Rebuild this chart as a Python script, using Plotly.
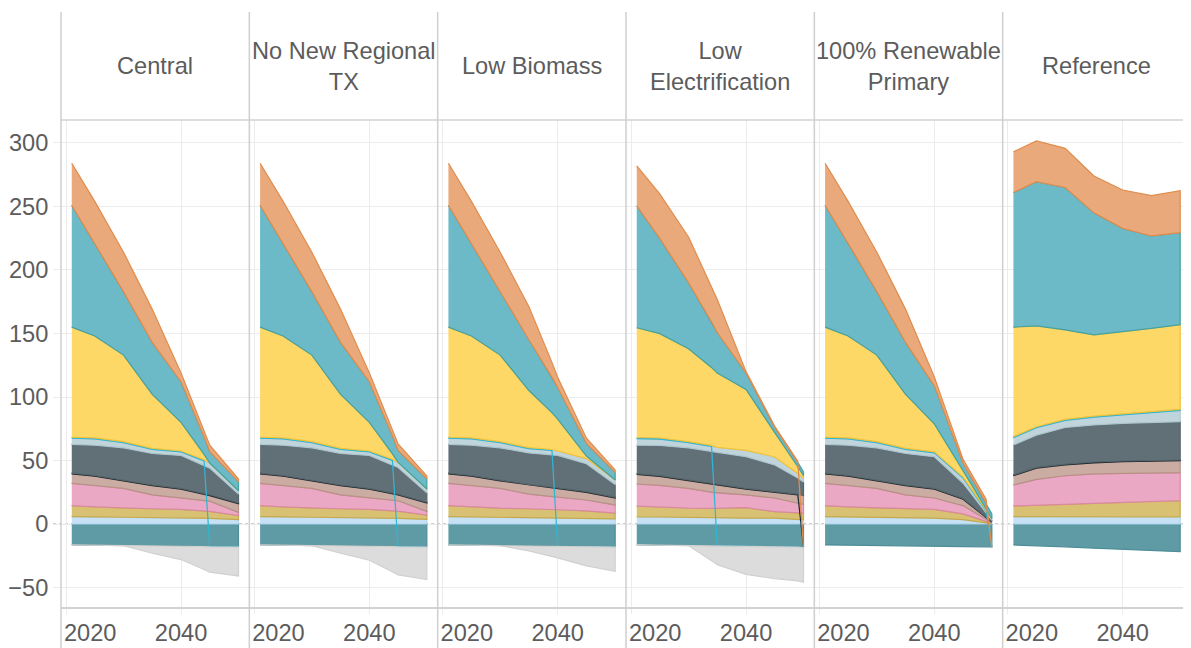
import numpy as np
import plotly.graph_objects as go
from plotly.subplots import make_subplots

# %% data
scenarios = ['Central', 'No New Regional<br>TX', 'Low Biomass',
             'Low<br>Electrification', '100% Renewable<br>Primary', 'Reference']
years = [2021, 2025, 2030, 2035, 2040, 2045, 2050]

# each series: one row per scenario (same order as `scenarios`)
dteal = [[-16.5, -16.8, -17, -17.2, -17.5, -17.8, -18],
         [-16.5, -16.8, -17, -17.2, -17.5, -17.8, -18],
         [-16.5, -16.8, -17, -17.2, -17.5, -17.8, -18],
         [-16.5, -16.8, -17, -17.2, -17.5, -17.8, -18],
         [-16.5, -16.8, -17, -17.2, -17.5, -17.8, -18],
         [-16.5, -17, -18, -19, -20, -21, -21.8]]
lightblue = [[5.8, 5.6, 5.3, 5.0, 4.6, 4.5, 3.4],
             [5.8, 5.6, 5.3, 5.0, 4.6, 4.5, 3.6],
             [5.8, 5.6, 5.3, 5.0, 4.6, 4.4, 4.0],
             [5.5, 5.5, 5.3, 5.0, 4.6, 4.7, 3.3],
             [5.8, 5.6, 5.3, 5.0, 4.6, 3.5, 0.3],
             [5.8, 5.7, 5.7, 5.6, 5.6, 5.5, 5.5]]
khaki = [[8.6, 7.9, 7.2, 7.0, 6.9, 5.5, 3.2],
         [8.6, 7.9, 7.2, 7.0, 6.9, 5.6, 3.4],
         [8.6, 7.9, 7.2, 7.0, 6.9, 6.0, 4.5],
         [8.5, 7.9, 7.2, 7.3, 8.3, 5.0, 5.2],
         [8.6, 7.9, 7.2, 7.0, 6.9, 4.5, 0.4],
         [8.4, 9.0, 9.8, 10.7, 11.5, 12.4, 12.9]]
pink = [[17.6, 17.0, 15.5, 11.0, 9.0, 8.0, 2.6],
        [17.6, 17.0, 15.5, 11.0, 9.0, 8.2, 3.0],
        [17.6, 17.0, 15.5, 11.5, 9.5, 8.5, 6.5],
        [17.5, 17.0, 15.5, 12.0, 10.1, 10.8, 7.0],
        [17.6, 17.0, 15.5, 11.0, 9.0, 6.5, 0.4],
        [16.5, 20.5, 22.5, 23.1, 22.8, 22.3, 22.0]]
taupe = [[7.4, 7.1, 6.0, 7.1, 6.9, 4.4, 6.7],
         [7.4, 7.1, 6.0, 7.1, 6.9, 4.6, 6.5],
         [7.4, 7.1, 6.0, 7.1, 6.9, 6.0, 5.5],
         [7.5, 7.1, 6.0, 6.5, 4.4, 4.4, 7.0],
         [7.4, 7.1, 6.0, 7.1, 6.9, 5.0, 0.4],
         [7.3, 8.8, 8.6, 8.8, 9.1, 9.3, 9.4]]
black = [[0.6, 0.6, 0.6, 0.6, 0.6, 0.6, 0.6],
         [0.6, 0.6, 0.6, 0.6, 0.6, 0.6, 0.6],
         [0.6, 0.6, 0.6, 0.6, 0.6, 0.6, 0.6],
         [0.6, 0.6, 0.6, 0.6, 0.6, 0.6, -0.2],
         [0.6, 0.6, 0.6, 0.6, 0.6, 0.6, 0.4],
         [0.6, 0.6, 0.6, 0.6, 0.6, 0.6, 0.6]]
slate = [[22.7, 23.8, 25.4, 24.8, 26.0, 21.0, 7.1],
         [22.7, 23.8, 25.4, 24.8, 26.0, 21.0, 7.5],
         [22.7, 23.8, 25.4, 24.8, 25.5, 22.0, 10.0],
         [22.4, 23.8, 25.4, 25.0, 25.0, 21.0, 10.5],
         [22.7, 23.8, 25.4, 24.8, 25.0, 12.0, 1.0],
         [23.6, 25.4, 28.8, 29.2, 29.7, 29.9, 30.2]]
greyblue = [[4.8, 5.0, 4.0, 3.3, 2.7, 4.0, 2.6],
            [4.8, 5.0, 4.0, 3.3, 2.7, 4.0, 3.0],
            [4.8, 5.0, 4.0, 3.3, 3.5, 4.0, 3.5],
            [5.3, 5.0, 4.0, 4.0, 5.0, 6.3, 3.0],
            [4.8, 5.0, 4.0, 3.3, 3.0, 4.0, 1.0],
            [5.8, 5.8, 5.6, 6.2, 7.0, 7.9, 8.9]]
cyan = [[0.8, 0.8, 0.8, 0.8, 0.8, -0.2, -0.2],
        [0.8, 0.8, 0.8, 0.8, 0.8, -0.2, -0.2],
        [0.8, 0.8, 0.8, 0.8, -0.2, -0.2, -0.2],
        [0.8, 0.8, 0.8, -0.2, -0.2, -0.2, -0.2],
        [0.8, 0.8, 0.8, 0.8, 0.8, 0.8, -0.2],
        [0.8, 0.8, 0.8, 0.8, 0.8, 0.8, 0.8]]
yellow = [[86.7, 80.2, 68.2, 42.4, 22.5, 0, 0],
          [86.7, 80.2, 68.2, 42.4, 22.5, 0, 0],
          [86.7, 80.2, 68.2, 45.0, 25.0, 2.0, 0],
          [86.4, 82.2, 73.2, 58.4, 48.0, 19.2, 2.0],
          [86.7, 80.2, 68.2, 42.4, 22.0, 5.0, 0],
          [86.2, 79.4, 70.4, 64.0, 64.3, 65.3, 66.7]]
teal = [[96, 73, 50, 41, 32, 9, 7.1],
        [96, 73, 50, 41, 32, 9.5, 8],
        [96, 73, 50, 40, 25, 10, 6],
        [96, 75, 52, 32, 13, 4, 3],
        [96, 73, 50, 41, 30, 6, 4],
        [106, 113.5, 112.2, 96, 81.4, 72.8, 72.4]]
orange = [[33, 33, 31, 26, 7, 5, 2.1],
          [33, 33, 31, 26, 7, 5, 2.2],
          [33, 33, 31, 26, 8, 4, 2],
          [31.5, 35, 36, 26, 1, 1, -0.4],
          [33, 33, 31, 26, 7, 3, -0.4],
          [32, 32.1, 30.8, 29, 30.2, 31.7, 33.1]]
grey = [[0, 0, 0, -5.8, -10.5, -20, -22.7],
        [0, 0, 0, -5.8, -11, -22, -25.5],
        [0, 0, 0, -4, -9, -15, -19],
        [0, 0, 0, -14.6, -22, -25, -27],
        [0, 0, 0, 0, 0, 0, 0],
        [0, 0, 0, 0, 0, 0, 0]]

# stack order (first = closest to zero), fill colour, stroke colour, home sign
series = [
    (dteal, '#5f9ba4', '#4f8e98', -1),
    (lightblue, '#c6e1f3', '#b0d4ee', 1),
    (khaki, '#d8c172', '#c6a94e', 1),
    (pink, '#eba8c5', '#d98a9f', 1),
    (taupe, '#cbaca2', '#b79086', 1),
    (black, '#24343a', '#1f2d33', 1),
    (slate, '#617077', '#56656b', 1),
    (greyblue, '#c0d4dc', '#aec6cf', 1),
    (cyan, '#3cbdd8', '#2fb6d4', 1),
    (yellow, '#fed866', '#f0c23a', 1),
    (teal, '#6cbac8', '#46a19f', 1),
    (orange, '#eaa97b', '#e08c4c', 1),
    (grey, '#dcdcdc', '#d0d0d0', -1),
]


def is_neg(v, home):
    return v < 0 or (v == 0 and home < 0)


fig = make_subplots(rows=1, cols=6, shared_yaxes=True, horizontal_spacing=0)

for col in range(6):
    # a sign change shows up as a one-year drop, so add the year before it
    xs = list(years)
    for vals, _, _, home in series:
        v = vals[col]
        for i in range(1, len(years)):
            if is_neg(v[i], home) != is_neg(v[i - 1], home):
                xs.append(years[i] - 1)
    xs = sorted(set(xs))

    dense = []
    for vals, _, _, home in series:
        v = vals[col]
        row = []
        for x in xs:
            if x in years:
                row.append(v[years.index(x)])
                continue
            b = next(i for i, y in enumerate(years) if y > x)
            if is_neg(v[b], home) != is_neg(v[b - 1], home):
                row.append(v[b - 1])
            else:
                row.append(float(np.interp(x, years, v)))
        dense.append(row)

    pos = np.zeros(len(xs))
    neg = np.zeros(len(xs))
    for (vals, fill, stroke, home), row in zip(series, dense):
        start = np.zeros(len(xs))
        end = np.zeros(len(xs))
        for j, val in enumerate(row):
            if is_neg(val, home):
                start[j] = neg[j]
                neg[j] += val
                end[j] = neg[j]
            else:
                start[j] = pos[j]
                pos[j] += val
                end[j] = pos[j]
        if not np.any(end - start):
            continue
        fig.add_trace(go.Scatter(
            x=xs + xs[::-1],
            y=list(end) + list(start[::-1]),
            fill='toself', fillcolor=fill,
            mode='lines', line=dict(color=stroke, width=1.2),
            hoverinfo='skip', showlegend=False), row=1, col=col + 1)

# %% layout
txt = '#5c5c5c'
font = 'Liberation Sans, Arial, sans-serif'
fsize = 23.6

# grid/ticks sit on 2020 and 2040; the first label is drawn flush with the
# panel edge (as in the original), so its label position is nudged right
fig.update_xaxes(
    range=[2019.13, 2051.88],
    tickvals=[2024.2, 2040],
    ticktext=['2020', '2040'],
    showgrid=False, ticks='', ticklabelstandoff=4,
    minor=dict(tickvals=[2020, 2040], showgrid=True, gridcolor='#ececec',
               gridwidth=1, ticks='outside', ticklen=5, tickcolor='#ececec'),
    zeroline=False,
    showline=True, linecolor='#d2d2d2', linewidth=1.5,
    tickfont=dict(size=fsize, color=txt, family=font))
fig.update_yaxes(
    range=[-65.35, 318.1],
    tickvals=[-50, 0, 50, 100, 150, 200, 250, 300],
    showgrid=True, gridcolor='#ececec', gridwidth=1,
    zeroline=False,
    ticks='outside', ticklen=7, tickcolor='#ececec')
fig.update_yaxes(tickfont=dict(size=fsize, color=txt, family=font), row=1, col=1)

shapes = []
# dotted zero line behind the areas
shapes.append(dict(type='line', xref='paper', yref='y', x0=-0.007, x1=1,
                   y0=0, y1=0, layer='below',
                   line=dict(color='#bdbdbd', width=1.5, dash='dot')))
# header strip and panel borders
top = 1 + 108 / 487
bottom = -41 / 487
shapes.append(dict(type='line', xref='paper', yref='paper', x0=0, x1=1,
                   y0=1, y1=1, line=dict(color='#d2d2d2', width=1.5)))
for i in range(6):
    shapes.append(dict(type='line', xref='paper', yref='paper',
                       x0=i / 6, x1=i / 6, y0=bottom, y1=top,
                       line=dict(color='#cfcfcf', width=1.5)))

annotations = []
for i, name in enumerate(scenarios):
    annotations.append(dict(
        text=name, xref='paper', yref='paper',
        x=(i + 0.5) / 6, y=1 + 54 / 487,
        xanchor='center', yanchor='middle', showarrow=False,
        font=dict(size=fsize, color=txt, family=font)))

# the page body adds an 8px offset, so the figure is 8px smaller
fig.update_layout(
    width=1183, height=640,
    margin=dict(l=53, r=0, t=112, b=41),
    paper_bgcolor='white', plot_bgcolor='white',
    shapes=shapes, annotations=annotations,
    font=dict(family=font, color=txt),
    showlegend=False)

fig.write_html("out.html")
